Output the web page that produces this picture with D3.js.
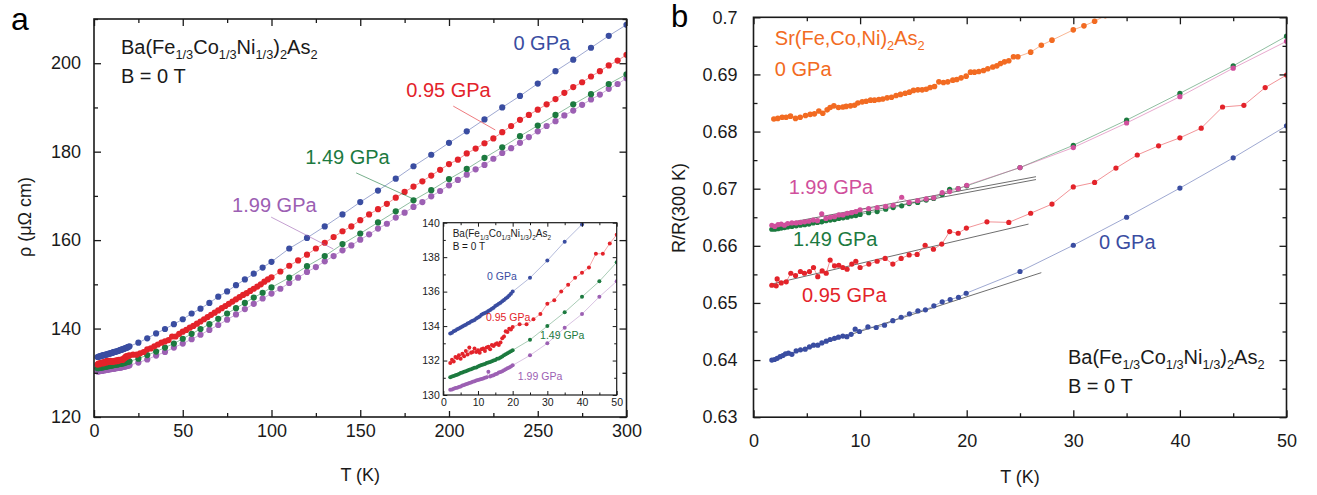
<!DOCTYPE html>
<html><head><meta charset="utf-8">
<script src="https://cdn.jsdelivr.net/npm/d3@7/dist/d3.min.js"></script>
<style>
body{margin:0;background:#fff;}
svg{display:block;font-family:"Liberation Sans",Arial,Helvetica,sans-serif;}
</style></head><body>
<svg id="c" width="1317" height="495"></svg>
<script>
// ---------------- Panel a data (rho in µΩ cm vs T in K) ----------------
const aLowT = [2.0,2.5,3.0,3.5,4.0,4.5,5.0,5.5,6.0,6.5,7.0,7.5,8.0,8.5,9.0,9.5,10.0,10.5,11.0,11.5,12.0,12.5,13.0,13.5,14.0,14.5,15.0,15.5,16.0,16.5,17.0,17.5,18.0,18.5,19.0,19.5,20.0];
const aBlueLow = [133.57,133.62,133.70,133.74,133.81,133.86,133.92,133.98,134.03,134.08,134.15,134.19,134.27,134.31,134.36,134.44,134.50,134.55,134.66,134.72,134.76,134.80,134.87,134.93,135.01,135.07,135.16,135.22,135.30,135.36,135.44,135.52,135.60,135.68,135.78,135.88,136.00];
const aRedLow = [131.85,132.05,131.95,132.20,132.15,132.30,132.10,132.40,132.25,132.55,132.35,132.75,132.45,132.50,132.70,132.50,132.60,132.45,132.65,132.70,132.55,132.75,132.80,132.65,132.90,132.85,132.95,133.00,132.90,133.05,133.30,133.40,133.70,133.65,133.85,133.80,133.95];
const aGreenLow = [131.03,131.07,131.10,131.15,131.18,131.22,131.27,131.30,131.35,131.38,131.42,131.46,131.50,131.54,131.58,131.60,131.66,131.70,131.74,131.77,131.80,131.85,131.88,131.92,131.96,132.00,132.03,132.10,132.12,132.18,132.24,132.30,132.36,132.42,132.48,132.54,132.60];
const aPurpleLow = [130.30,130.32,130.36,130.40,130.42,130.47,130.50,130.55,130.58,130.62,130.66,130.70,130.73,130.77,130.80,130.84,130.87,130.90,130.93,130.96,131.00,131.03,131.35,131.08,131.12,131.15,131.20,131.24,131.30,131.34,131.38,131.43,131.50,131.55,131.60,131.65,131.72];

const aBlueHiT = [25,30,35,40,45,50,55,60,65,70,75,80,85,90,95,100,110,120,130,140,150,160,170,180,190,200,210,220,230,240,250,260,270,280,290,300];
const aBlueHi = [136.8,137.8,138.9,139.9,141.0,142.1,143.4,144.5,145.8,147.2,148.4,149.8,151.1,152.4,153.8,155.1,158.1,160.5,163.1,165.8,168.6,171.2,173.9,176.7,179.3,182.0,184.6,187.3,190.0,192.6,195.4,198.2,200.8,203.5,206.2,208.7];
const aRedHiT = [22,24,26,28,30,32,34,36,38,40,42,44,46,48,50,52,54,56,58,60,62,64,66,68,70,72,74,76,78,80,82,84,86,88,90,92,94,96,98,100,
  105,110,115,120,125,130,135,140,145,150,155,160,165,170,175,180,185,190,195,200,205,210,215,220,225,230,235,240,245,250,255,260,265,270,275,280,285,290,295,300];
const aRedHi = [134.1,134.1,134.4,134.7,135.3,135.5,136.0,136.4,136.8,137.1,137.4,138.2,138.2,138.8,139.3,139.7,140.2,140.6,141.1,141.6,142.1,142.6,143.1,143.6,144.1,144.6,145.1,145.6,146.1,146.6,147.1,147.6,148.0,148.5,149.0,149.5,150.0,150.6,151.1,151.6,
  152.9,154.2,155.4,156.7,158.1,159.4,160.7,162.0,163.1,164.5,165.8,167.0,168.2,169.6,170.9,172.1,173.3,174.6,175.9,177.2,178.2,179.6,180.7,181.9,183.0,184.4,185.8,187.2,188.3,189.5,190.7,191.9,193.3,194.6,195.7,197.0,198.2,199.5,200.6,201.9];
const aGreenHiT = [25,30,35,40,45,50,55,60,65,70,75,80,85,90,95,100,110,120,130,140,150,160,170,180,190,200,210,220,230,240,250,260,270,280,290,300];
const aGreenHi = [133.2,134.0,134.8,135.7,136.6,137.7,138.8,139.9,141.0,142.2,143.4,144.6,145.8,147.0,148.1,149.3,151.5,154.1,156.4,159.1,161.5,164.0,166.5,169.0,171.3,173.8,176.1,178.6,181.0,183.5,185.9,188.3,190.7,193.0,195.3,197.5];
const aPurpleHiT = [25,30,35,40,45,50,55,60,65,70,75,80,85,90,95,100,105,110,115,120,125,130,135,140,145,150,155,160,165,170,175,180,185,190,195,200,205,210,215,220,225,230,235,240,245,250,255,260,265,270,275,280,285,290,295,300];
const aPurpleHi = [132.3,133.0,133.9,134.7,135.7,136.6,137.6,138.6,139.7,140.8,142.0,143.2,144.4,145.6,146.8,147.9,
  149.0,150.3,151.5,152.8,153.9,155.2,156.4,157.7,158.8,160.1,161.3,162.6,163.7,165.1,166.2,167.5,168.6,169.9,171.1,172.4,
  173.6,174.8,176.0,177.0,178.4,179.7,180.8,182.0,183.3,184.6,185.8,186.9,188.2,189.3,190.6,191.8,192.9,194.2,195.3,196.6];
const aPressures = ["0 GPa","0.95 GPa","1.49 GPa","1.99 GPa"];
const aXTicks = [0,50,100,150,200,250,300];
const aYTicks = [120,140,160,180,200];
const insetXTicks = [0,10,20,30,40,50];
const insetYTicks = [130,132,134,136,138,140];

// ---------------- Panel b data (R/R(300 K) vs T in K) ----------------
const bBlueT = [1.72,1.97,2.22,2.50,2.75,3.00,3.28,3.60,4.00,4.41,4.85,5.25,5.63,6.03,6.41,6.82,7.19,7.60,7.97,8.38,8.76,9.16,9.54,9.94,10.73,11.51,12.29,13.07,13.85,14.63,15.42,16.13,16.92,17.70,18.45,19.23,19.95,25,30,35,40,45,50];
const bBlue = [0.6400,0.6401,0.6403,0.6406,0.6408,0.6411,0.6412,0.6410,0.6416,0.6418,0.6419,0.6423,0.6426,0.6426,0.6430,0.6433,0.6436,0.6438,0.6440,0.6442,0.6441,0.6445,0.6454,0.6450,0.6458,0.6457,0.6461,0.6469,0.6475,0.6481,0.6486,0.6488,0.6495,0.6502,0.6506,0.6510,0.6517,0.6555,0.6601,0.6650,0.6701,0.6754,0.6810];
const bRedT = [1.72,2.13,2.22,2.60,3.07,3.50,3.94,4.40,4.78,5.25,5.63,6.03,6.44,6.82,7.19,7.60,8.00,8.38,8.78,9.22,9.60,10.00,10.82,11.60,12.35,13.07,13.85,14.60,15.35,16.10,16.88,17.66,18.40,19.20,19.97,21.9,23.95,26,28,30,32,34,36,38,40,42,44,46,48,50];
const bRed = [0.6531,0.6530,0.6542,0.6535,0.6537,0.6552,0.6548,0.6555,0.6552,0.6555,0.6562,0.6546,0.6556,0.6552,0.6575,0.6565,0.6566,0.6562,0.6559,0.6568,0.6573,0.6562,0.6568,0.6573,0.6578,0.6568,0.6578,0.6584,0.6585,0.6601,0.6594,0.6603,0.6625,0.6622,0.6631,0.6642,0.6641,0.6657,0.6673,0.6703,0.6711,0.6736,0.6759,0.6775,0.6789,0.6806,0.6843,0.6846,0.6877,0.6899];
const bGPT = [1.72,2.0,2.3,2.6,2.9,3.2,3.6,4.0,4.4,4.8,5.2,5.6,6.0,6.4,6.8,7.2,7.6,8.0,8.4,8.8,9.2,9.6,10.0,10.8,11.6,12.4,13.1,13.9,14.6,15.4,16.2,16.9,17.7,18.4,19.2,20.0,25,30,35,40,45,50];
const bGreen = [0.6629,0.6629,0.6630,0.6631,0.6632,0.6633,0.6634,0.6635,0.6636,0.6637,0.6638,0.6640,0.6641,0.6642,0.6644,0.6645,0.6646,0.6648,0.6649,0.6650,0.6652,0.6653,0.6655,0.6658,0.6660,0.6664,0.6667,0.6670,0.6674,0.6676,0.6680,0.6683,0.6690,0.6699,0.6700,0.6705,0.6737,0.6776,0.6820,0.6867,0.6915,0.6967];
const bPink = [0.6636,0.6634,0.6637,0.6638,0.6636,0.6639,0.6640,0.6640,0.6641,0.6642,0.6643,0.6645,0.6644,0.6656,0.6648,0.6650,0.6651,0.6654,0.6654,0.6657,0.6658,0.6660,0.6663,0.6665,0.6667,0.6669,0.6671,0.6685,0.6676,0.6679,0.6682,0.6684,0.6693,0.6695,0.6700,0.6706,0.6737,0.6772,0.6815,0.6861,0.6911,0.6958];
const bOrangeT = [1.91,2.28,2.69,3.06,3.47,3.94,4.38,4.88,5.32,5.72,6.13,6.50,6.91,7.19,7.54,7.97,8.38,8.69,9.10,9.48,9.79,10.20,10.57,10.98,11.35,11.76,12.13,12.54,12.95,13.38,13.79,14.23,14.63,15.01,15.42,15.82,16.20,16.57,16.98,17.39,17.82,18.23,18.70,19.07,19.48,19.95,20.36,20.73,21.14,21.58,21.98,22.45,22.83,23.17,23.55,23.95,24.39,24.80,26,27,28,30,31,32,33];
const bOrange = [0.6822,0.6823,0.6825,0.6825,0.6827,0.6823,0.6825,0.6828,0.6830,0.6831,0.6836,0.6832,0.6838,0.6842,0.6845,0.6842,0.6843,0.6844,0.6845,0.6846,0.6850,0.6852,0.6853,0.6855,0.6855,0.6856,0.6857,0.6859,0.6860,0.6863,0.6865,0.6867,0.6869,0.6872,0.6873,0.6873,0.6874,0.6877,0.6879,0.6887,0.6886,0.6887,0.6890,0.6891,0.6894,0.6897,0.6904,0.6904,0.6905,0.6907,0.6910,0.6913,0.6915,0.6919,0.6922,0.6924,0.6931,0.6931,0.6939,0.6951,0.6960,0.6978,0.6985,0.6993,0.7003];
// linear low-T fits (0 GPa, 0.95, 1.49, 1.99 GPa)
const bFitStartT = [1.7,1.7,1.7,1.7];
const bFitEndT = [27.0,25.8,26.5,26.5];
const bFitStartV = [0.6400,0.6533,0.6629,0.6635];
const bFitEndV = [0.6553,0.6638,0.6716,0.6721];
const bXTicks = [0,10,20,30,40,50];
const bYTicks = [0.63,0.64,0.65,0.66,0.67,0.68,0.69,0.70];

// ---------------- drawing ----------------
const COL = {blue:"#3a4da1", red:"#e3232a", green:"#1c7a3f", purple:"#9c60b3", pink:"#d04f9c", orange:"#f26b22", fit:"#6e6e6e", ink:"#1a1a1a"};
const svg = d3.select("#c");
const zip = (T,V) => T.map((t,i)=>[t,V[i]]);

function axes(g, x, y, o){
  const [x0,x1] = x.range(), [yb,yt] = y.range();
  const sty = s => { s.select(".domain").remove(); s.selectAll(".tick line").attr("stroke",COL.ink).attr("stroke-width",o.tw);
    s.selectAll("text").attr("fill",COL.ink).attr("font-size",o.fs).attr("font-family",null); };
  const noLab = () => "";
  const xMinor = o.xMinor.filter(v=>!o.xMajor.includes(v)), yMinor = o.yMinor.filter(v=>!o.yMajor.some(m=>Math.abs(m-v)<1e-9));
  g.append("g").attr("transform",`translate(0,${yb})`).call(d3.axisBottom(x).tickValues(o.xMajor).tickSize(-o.tl).tickPadding(o.xpad).tickFormat(o.xfmt)).call(sty);
  g.append("g").attr("transform",`translate(0,${yb})`).call(d3.axisBottom(x).tickValues(xMinor).tickSize(-o.tm).tickFormat(noLab)).call(sty);
  g.append("g").attr("transform",`translate(0,${yt})`).call(d3.axisTop(x).tickValues(o.xMajor).tickSize(-o.tl).tickFormat(noLab)).call(sty);
  g.append("g").attr("transform",`translate(0,${yt})`).call(d3.axisTop(x).tickValues(xMinor).tickSize(-o.tm).tickFormat(noLab)).call(sty);
  g.append("g").attr("transform",`translate(${x0},0)`).call(d3.axisLeft(y).tickValues(o.yMajor).tickSize(-o.tl).tickPadding(o.ypad).tickFormat(o.yfmt)).call(sty);
  g.append("g").attr("transform",`translate(${x0},0)`).call(d3.axisLeft(y).tickValues(yMinor).tickSize(-o.tm).tickFormat(noLab)).call(sty);
  g.append("g").attr("transform",`translate(${x1},0)`).call(d3.axisRight(y).tickValues(o.yMajor).tickSize(-o.tl).tickFormat(noLab)).call(sty);
  g.append("g").attr("transform",`translate(${x1},0)`).call(d3.axisRight(y).tickValues(yMinor).tickSize(-o.tm).tickFormat(noLab)).call(sty);
  g.append("rect").attr("x",x0).attr("y",yt).attr("width",x1-x0).attr("height",yb-yt)
    .attr("fill","none").attr("stroke",COL.ink).attr("stroke-width",o.fw);
}

function plotSeries(g, x, y, pts, color, r, lw){
  g.append("path").datum(pts).attr("fill","none").attr("stroke",color).attr("stroke-opacity",0.55).attr("stroke-width",lw)
    .attr("d", d3.line().x(d=>x(d[0])).y(d=>y(d[1])));
  g.append("g").selectAll("circle").data(pts).join("circle").attr("cx",d=>x(d[0])).attr("cy",d=>y(d[1])).attr("r",r).attr("fill",color);
}

function rich(g, px, py, parts, size, color){
  const t = g.append("text").attr("x",px).attr("y",py).attr("fill",color).attr("font-size",size);
  let low = false; const off = size*0.24;
  parts.forEach(([s,sub])=>{
    const sp = t.append("tspan").text(s).attr("font-size", sub? size*0.64 : size);
    if (sub && !low){ sp.attr("dy", off); low = true; }
    else if (!sub && low){ sp.attr("dy", -off); low = false; }
  });
  return t;
}
const baTitle = [["Ba(Fe",0],["1/3",1],["Co",0],["1/3",1],["Ni",0],["1/3",1],[")",0],["2",1],["As",0],["2",1]];

function clip(id, x, y){
  const [x0,x1]=x.range(), [yb,yt]=y.range();
  svg.append("clipPath").attr("id",id).append("rect").attr("x",x0).attr("y",yt).attr("width",x1-x0).attr("height",yb-yt);
}

// ===== Panel a =====
const ax = d3.scaleLinear().domain([0,300]).range([94,626.5]);
const ay = d3.scaleLinear().domain([120,210]).range([417,19]);
clip("clipA", ax, ay);
const gA = svg.append("g");
const aSeries = [
  zip(aLowT.concat(aBlueHiT), aBlueLow.concat(aBlueHi)),
  zip(aLowT.concat(aRedHiT), aRedLow.concat(aRedHi)),
  zip(aLowT.concat(aGreenHiT), aGreenLow.concat(aGreenHi)),
  zip(aLowT.concat(aPurpleHiT), aPurpleLow.concat(aPurpleHi))
];
const aCols = [COL.blue, COL.red, COL.green, COL.purple];
const gAd = gA.append("g").attr("clip-path","url(#clipA)");
[3,2,1,0].forEach(i=>plotSeries(gAd, ax, ay, aSeries[i], aCols[i], 3.1, 0.9));
axes(gA, ax, ay, {xMajor:aXTicks, xMinor:d3.range(0,301,25), yMajor:aYTicks, yMinor:d3.range(120,211,10),
  tl:7, tm:4, tw:1.3, fw:1.6, fs:18, xpad:7, ypad:13, xfmt:d3.format("d"), yfmt:d3.format("d")});

// pointer lines (data coords) and pressure labels
const aPtrs = [[[202.4,190.3],[226.1,184.9]],[[147.7,175.2],[179.9,169.3]],[[99.8,165.2],[134.8,158.0]]];
aPtrs.forEach((p,i)=>gA.append("line").attr("x1",ax(p[0][0])).attr("y1",ay(p[0][1])).attr("x2",ax(p[1][0])).attr("y2",ay(p[1][1]))
  .attr("stroke",aCols[i+1]).attr("stroke-opacity",0.6).attr("stroke-width",1));
const aLabelPos = [[236.3,203.0],[175.9,192.4],[119.0,177.2],[77.8,166.4]];
aPressures.forEach((s,i)=>gA.append("text").attr("x",ax(aLabelPos[i][0])).attr("y",ay(aLabelPos[i][1])).attr("font-size",20).attr("fill",aCols[i]).text(s));
rich(gA, ax(15.2), ay(202.1), baTitle, 20, COL.ink);
gA.append("text").attr("x",ax(15.2)).attr("y",ay(195.6)).attr("font-size",20).attr("fill",COL.ink).text("B = 0 T");
gA.append("text").attr("transform","translate(31,217) rotate(-90)").attr("text-anchor","middle").attr("font-size",18).attr("fill",COL.ink).text("ρ (μΩ cm)");
gA.append("text").attr("x",ax(150)).attr("y",481).attr("text-anchor","middle").attr("font-size",18).attr("fill",COL.ink).text("T (K)");
gA.append("text").attr("x",11).attr("y",30).attr("font-size",32).attr("fill","#000").text("a");

// ===== Inset =====
const ix = d3.scaleLinear().domain([0,50]).range([443.3,616.7]);
const iy = d3.scaleLinear().domain([130,140]).range([395,222.7]);
clip("clipI", ix, iy);
const gI = svg.append("g");
gI.append("rect").attr("x",ix.range()[0]-32).attr("y",iy.range()[1]-8).attr("width",ix.range()[1]-ix.range()[0]+34).attr("height",iy.range()[0]-iy.range()[1]+24).attr("fill","#fff");
const gId = gI.append("g").attr("clip-path","url(#clipI)");
[3,2,1,0].forEach(i=>plotSeries(gId, ix, iy, aSeries[i].filter(d=>d[0]<=52), aCols[i], 2.0, 0.7));
axes(gI, ix, iy, {xMajor:insetXTicks, xMinor:d3.range(0,51,5), yMajor:insetYTicks, yMinor:d3.range(130,141,1),
  tl:4, tm:2.5, tw:1, fw:1.2, fs:10.5, xpad:3.5, ypad:3.5, xfmt:d3.format("d"), yfmt:d3.format("d")});
rich(gI, ix(2.7), iy(139.15), baTitle, 10, COL.ink);
gI.append("text").attr("x",ix(2.7)).attr("y",iy(138.42)).attr("font-size",10).attr("fill",COL.ink).text("B = 0 T");
const iLabelPos = [[12.6,136.67],[12.3,134.29],[27.9,133.25],[21.5,130.87]];
aPressures.forEach((s,i)=>gI.append("text").attr("x",ix(iLabelPos[i][0])).attr("y",iy(iLabelPos[i][1])).attr("font-size",10.5).attr("fill",aCols[i]).text(s));

// ===== Panel b =====
const bx = d3.scaleLinear().domain([0,50]).range([753.5,1286.5]);
const by = d3.scaleLinear().domain([0.63,0.70]).range([417.2,17.3]);
clip("clipB", bx, by);
const gB = svg.append("g");
const gBd = gB.append("g").attr("clip-path","url(#clipB)");
bFitStartT.forEach((t,i)=>gBd.append("line").attr("x1",bx(t)).attr("y1",by(bFitStartV[i])).attr("x2",bx(bFitEndT[i])).attr("y2",by(bFitEndV[i]))
  .attr("stroke",COL.fit).attr("stroke-width",1));
plotSeries(gBd, bx, by, zip(bOrangeT,bOrange), COL.orange, 2.8, 0.9);
plotSeries(gBd, bx, by, zip(bBlueT,bBlue), COL.blue, 2.6, 0.9);
plotSeries(gBd, bx, by, zip(bRedT,bRed), COL.red, 2.6, 0.9);
plotSeries(gBd, bx, by, zip(bGPT,bGreen), COL.green, 2.6, 0.9);
plotSeries(gBd, bx, by, zip(bGPT,bPink), COL.pink, 2.6, 0.9);
axes(gB, bx, by, {xMajor:bXTicks, xMinor:d3.range(0,51,5), yMajor:bYTicks, yMinor:[0.63,0.635,0.64,0.645,0.65,0.655,0.66,0.665,0.67,0.675,0.68,0.685,0.69,0.695,0.70],
  tl:7, tm:4, tw:1.3, fw:1.6, fs:18, xpad:17, ypad:16, xfmt:d3.format("d"), yfmt:d3.format(".2~f")});
rich(gB, bx(2.0), by(0.6951), [["Sr(Fe,Co,Ni)",0],["2",1],["As",0],["2",1]], 20, COL.orange);
gB.append("text").attr("x",bx(2.0)).attr("y",by(0.6897)).attr("font-size",20).attr("fill",COL.orange).text("0 GPa");
const bLab = [["1.99 GPa",3.3,0.6691,COL.pink],["1.49 GPa",3.7,0.6600,COL.green],["0.95 GPa",4.55,0.6502,COL.red],["0 GPa",32.4,0.6594,COL.blue]];
bLab.forEach(d=>gB.append("text").attr("x",bx(d[1])).attr("y",by(d[2])).attr("font-size",20).attr("fill",d[3]).text(d[0]));
rich(gB, bx(29.5), by(0.6393), baTitle, 20, COL.ink);
gB.append("text").attr("x",bx(29.5)).attr("y",by(0.6343)).attr("font-size",20).attr("fill",COL.ink).text("B = 0 T");
gB.append("text").attr("transform","translate(685,208) rotate(-90)").attr("text-anchor","middle").attr("font-size",18).attr("fill",COL.ink).text("R/R(300 K)");
gB.append("text").attr("x",bx(25)).attr("y",483).attr("text-anchor","middle").attr("font-size",18).attr("fill",COL.ink).text("T (K)");
gB.append("text").attr("x",671).attr("y",27).attr("font-size",31).attr("fill","#000").text("b");
</script>
</body></html>
